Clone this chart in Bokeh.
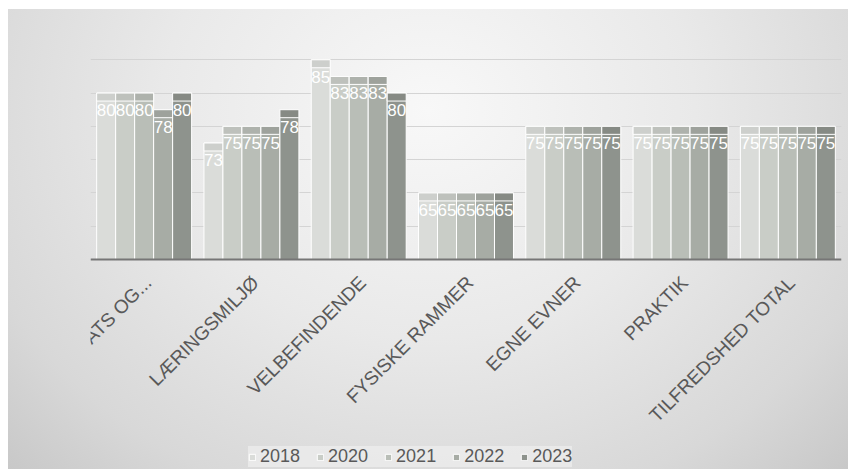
import math
from bokeh.plotting import figure
from bokeh.models import FactorRange, Range1d, FixedTicker, ColumnDataSource, Legend, LegendItem, Span
from bokeh.transform import dodge
from bokeh.core.properties import value
from bokeh.embed import file_html
from bokeh.resources import INLINE

categories = ["EGEN INDSATS OG...", "LÆRINGSMILJØ", "VELBEFINDENDE", "FYSISKE RAMMER",
              "EGNE EVNER", "PRAKTIK", "TILFREDSHED TOTAL"]
years = ["2018", "2020", "2021", "2022", "2023"]
v2018 = [80, 72.5, 85, 65, 75, 75, 75]
v2020 = [80, 75, 82.5, 65, 75, 75, 75]
v2021 = [80, 75, 82.5, 65, 75, 75, 75]
v2022 = [77.5, 75, 82.5, 65, 75, 75, 75]
v2023 = [80, 77.5, 80, 65, 75, 75, 75]
series = [v2018, v2020, v2021, v2022, v2023]
y_ticks = [55, 60, 65, 70, 75, 80, 85, 90]

colors = ["#dadcd9", "#c9cdc7", "#b9beb7", "#a7aca5", "#8e938d"]
top_colors = ["#cdcfcc", "#bec1bc", "#aeb2ac", "#9ea29c", "#868a84"]
offsets = [-0.354, -0.177, 0.0, 0.177, 0.354]
bar_w = 0.177
band = 1.2

y_base = y_ticks[0]
y_top = y_ticks[-1]
fig_h, top_border = 460, 17
frame_h = fig_h - top_border
plot_h = 233  # pixels from top gridline to baseline
y_lo = y_top - (y_top - y_base) * frame_h / plot_h

data = {"cat": categories}
for y, vals in zip(years, series):
    data["v" + y] = vals
    data["b" + y] = [v - band for v in vals]
    data["l" + y] = [str(int(v + 0.5)) for v in vals]
src = ColumnDataSource(data)

p = figure(x_range=FactorRange(factors=categories, range_padding=0),
           y_range=Range1d(y_lo, y_top),
           width=840, height=fig_h, output_backend="svg", toolbar_location=None,
           min_border_left=82, min_border_right=7, min_border_top=top_border, min_border_bottom=0)
p.margin = (9, 0, 0, 8)
p.styles = {"background-image": "radial-gradient(ellipse at 50% 22%, #f8f8f8 0%, #e9e9e9 45%, #d8d8d8 80%, #c8c8c8 100%)"}
p.background_fill_alpha = 0
p.border_fill_alpha = 0
p.outline_line_color = None
p.xaxis.visible = False
p.yaxis.visible = False

p.ygrid.ticker = FixedTicker(ticks=y_ticks)
p.ygrid.grid_line_color = "#d4d4d4"
p.xgrid.grid_line_color = None

renderers = []
for y, off, c, tc in zip(years, offsets, colors, top_colors):
    r = p.vbar(x=dodge("cat", off, range=p.x_range), top="v" + y, bottom=y_base, width=bar_w,
               source=src, fill_color=c, line_color="white", line_width=1)
    p.vbar(x=dodge("cat", off, range=p.x_range), top="v" + y, bottom="b" + y, width=bar_w,
           source=src, fill_color=tc, line_color="white", line_width=1)
    renderers.append(r)
for y, off in zip(years, offsets):
    p.text(x=dodge("cat", off, range=p.x_range), y="v" + y, text="l" + y, source=src,
           text_color="white", text_font=value("Liberation Sans"), text_font_size="17px",
           text_align="center", text_baseline="top", y_offset=11)

# baseline (category axis line)
p.add_layout(Span(location=y_base, dimension="width", line_color="#767676", line_width=2))

# category labels, rotated 45 degrees, ending at each category centre
p.text(x="cat", y=y_base, text="cat", source=src, angle=math.pi / 4,
       text_align="right", text_baseline="middle", x_offset=4, y_offset=20,
       text_color="#595959", text_font=value("Liberation Sans"), text_font_size="19px")

legend = Legend(items=[LegendItem(label=y, renderers=[r]) for y, r in zip(years, renderers)],
                location=(158, 2), orientation="horizontal",
                glyph_width=8, glyph_height=8, label_standoff=4, spacing=16, padding=5,
                label_text_font="Liberation Sans", label_text_font_size="18px",
                label_text_color="#595959",
                background_fill_color="#ececec", background_fill_alpha=0.8,
                border_line_color=None)
p.add_layout(legend, "center")

open("out.html", "w").write(file_html(p, INLINE))
